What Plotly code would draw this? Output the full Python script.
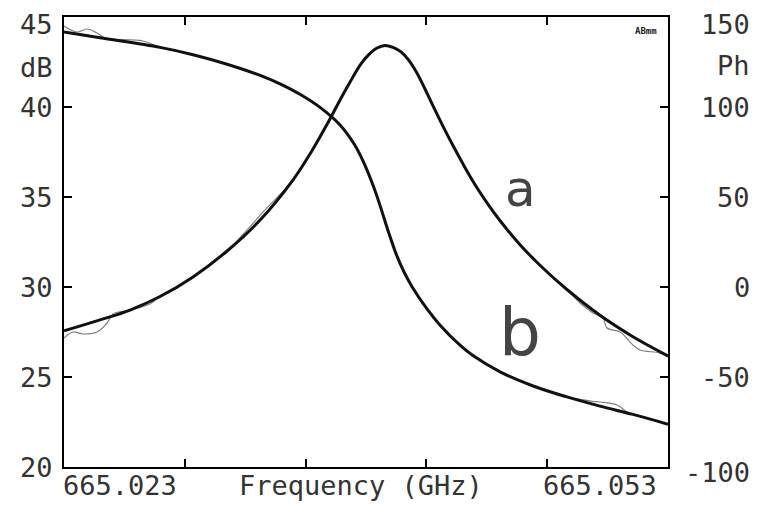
import plotly.graph_objects as go

# --- resonance scan: amplitude (a, dB) and phase (b, degrees) vs frequency ---
freq_fit_a = [665.02300, 665.02479, 665.02628, 665.02777, 665.02941, 665.03110,
              665.03274, 665.03437, 665.03522, 665.03621, 665.03671, 665.03721,
              665.03775, 665.03815, 665.03855, 665.03894, 665.03934, 665.03974,
              665.04014, 665.04053, 665.04093, 665.04133, 665.04182, 665.04232,
              665.04282, 665.04331, 665.04396, 665.04466, 665.04565, 665.04664,
              665.04798, 665.04962, 665.05126, 665.05300]
amp_fit_a = [27.56, 28.17, 28.72, 29.47, 30.56, 32.00,
             33.72, 35.94, 37.39, 39.33, 40.39, 41.39,
             42.39, 42.92, 43.28, 43.42, 43.31, 43.06,
             42.58, 41.89, 41.00, 40.06, 38.94, 37.86,
             36.83, 35.88, 34.76, 33.68, 32.35, 31.21,
             29.86, 28.43, 27.24, 26.17]

freq_meas_a = [665.02300, 665.02345, 665.02394, 665.02464, 665.02514, 665.02543,
               665.02628, 665.02727, 665.02777, 665.02941, 665.03110, 665.03224,
               665.03264, 665.03283, 665.03437, 665.03522, 665.03621, 665.03671,
               665.03721, 665.03775, 665.03815, 665.03855, 665.03894, 665.03934,
               665.03974, 665.04014, 665.04053, 665.04093, 665.04133, 665.04182,
               665.04232, 665.04282, 665.04331, 665.04396, 665.04466, 665.04565,
               665.04664, 665.04798, 665.04863, 665.04927, 665.04977, 665.04997,
               665.05062, 665.05126, 665.05161, 665.05260, 665.05300]
amp_meas_a = [27.17, 27.50, 27.39, 27.50, 28.00, 28.50,
              28.72, 29.06, 29.47, 30.56, 32.00, 33.35,
              33.85, 34.10, 35.94, 37.39, 39.33, 40.39,
              41.39, 42.39, 42.92, 43.28, 43.42, 43.31,
              43.06, 42.58, 41.89, 41.00, 40.06, 38.94,
              37.86, 36.83, 35.88, 34.76, 33.68, 32.35,
              31.21, 29.86, 29.11, 28.56, 28.28, 27.72,
              27.50, 26.78, 26.50, 26.33, 26.11]

freq_fit_b = [665.02300, 665.02479, 665.02777, 665.02941, 665.03110, 665.03274,
              665.03373, 665.03472, 665.03572, 665.03671, 665.03745, 665.03795,
              665.03835, 665.03870, 665.03909, 665.03949, 665.03989, 665.04028,
              665.04103, 665.04168, 665.04267, 665.04331, 665.04466, 665.04630,
              665.04798, 665.04962, 665.05126, 665.05300]
phase_fit_b = [141.67, 138.44, 133.11, 129.06, 123.78, 117.56,
               112.89, 107.11, 99.78, 90.00, 78.72, 67.61,
               56.50, 45.22, 31.44, 18.56, 8.33, 0.33,
               -12.17, -21.22, -32.33, -38.11, -47.11, -55.00,
               -61.06, -66.17, -70.78, -76.22]

freq_meas_b = [665.02300, 665.02365, 665.02414, 665.02464, 665.02504, 665.02692,
               665.02777, 665.02941, 665.03110, 665.03274, 665.03373, 665.03472,
               665.03572, 665.03671, 665.03745, 665.03795, 665.03835, 665.03870,
               665.03909, 665.03949, 665.03989, 665.04028, 665.04103, 665.04168,
               665.04267, 665.04331, 665.04466, 665.04630, 665.04798, 665.04927,
               665.04962, 665.05047, 665.05097, 665.05126, 665.05300]
phase_meas_b = [145.00, 141.67, 143.33, 141.11, 138.33, 136.67,
                133.11, 129.06, 123.78, 117.56, 112.89, 107.11,
                99.78, 90.00, 78.72, 67.61, 56.50, 45.22,
                31.44, 18.56, 8.33, 0.33, -12.17, -21.22,
                -32.33, -38.11, -47.11, -55.00, -61.06, -63.50,
                -63.90, -65.56, -69.44, -70.78, -76.22]

# axis ranges and tick values
freq_range = [665.023, 665.053]
freq_ticks = [665.029, 665.035, 665.041, 665.047]
db_ticks = [20, 25, 30, 35, 40, 45]
ph_ticks = [-100, -50, 0, 50, 100, 150]
freq_end_labels = ["665.023", "665.053"]
x_title = "Frequency (GHz)"

MONO = "DejaVu Sans Mono"
INK = "#333333"

fig = go.Figure()

# measured traces (thin grey) under the fitted curves (heavy black)
fig.add_trace(go.Scatter(x=freq_meas_a, y=amp_meas_a, mode="lines",
                         line=dict(color="#808080", width=1.2, shape="spline"),
                         showlegend=False, hoverinfo="skip"))
fig.add_trace(go.Scatter(x=freq_fit_a, y=amp_fit_a, mode="lines",
                         line=dict(color="#111111", width=3, shape="spline"),
                         showlegend=False))
fig.add_trace(go.Scatter(x=freq_meas_b, y=phase_meas_b, mode="lines", yaxis="y2",
                         line=dict(color="#808080", width=1.2, shape="spline"),
                         showlegend=False, hoverinfo="skip"))
fig.add_trace(go.Scatter(x=freq_fit_b, y=phase_fit_b, mode="lines", yaxis="y2",
                         line=dict(color="#111111", width=3, shape="spline"),
                         showlegend=False))

ann = []
# left (dB) tick labels
for v in db_ticks:
    shift = 0
    if v == db_ticks[-1]:
        shift = -7
    ann.append(dict(x=-0.015, xref="paper", y=v, yref="y", text=str(v),
                    xanchor="right", yanchor="middle", showarrow=False, yshift=shift,
                    font=dict(family=MONO, size=27, color=INK)))
# right (phase) tick labels
for v in ph_ticks:
    shift = 0
    if v == ph_ticks[-1]:
        shift = -7
    elif v == ph_ticks[0]:
        shift = -5
    ann.append(dict(x=1.139, xref="paper", y=v, yref="y2", text=str(v),
                    xanchor="right", yanchor="middle", showarrow=False, yshift=shift,
                    font=dict(family=MONO, size=27, color=INK)))
# unit labels
ann.append(dict(x=-0.015, xref="paper", y=0.887, yref="paper", text="dB",
                xanchor="right", yanchor="middle", showarrow=False,
                font=dict(family=MONO, size=27, color=INK)))
ann.append(dict(x=1.139, xref="paper", y=0.893, yref="paper", text="Ph",
                xanchor="right", yanchor="middle", showarrow=False,
                font=dict(family=MONO, size=27, color=INK)))
# frequency axis labels
ann.append(dict(x=freq_range[0], xref="x", y=-0.042, yref="paper", text=freq_end_labels[0],
                xanchor="left", yanchor="middle", showarrow=False, xshift=-3,
                font=dict(family=MONO, size=27, color=INK)))
ann.append(dict(x=freq_range[1], xref="x", y=-0.042, yref="paper", text=freq_end_labels[1],
                xanchor="right", yanchor="middle", showarrow=False, xshift=-9,
                font=dict(family=MONO, size=27, color=INK)))
ann.append(dict(x=0.491, xref="paper", y=-0.042, yref="paper", text=x_title,
                xanchor="center", yanchor="middle", showarrow=False,
                font=dict(family=MONO, size=27, color=INK)))
# instrument tag
ann.append(dict(x=0.985, xref="paper", y=0.985, yref="paper", text="<b>ABmm</b>",
                xanchor="right", yanchor="top", showarrow=False,
                font=dict(family=MONO, size=9, color="#222")))
# curve labels
ann.append(dict(x=0.755, xref="paper", y=0.617, yref="paper", text="a",
                xanchor="center", yanchor="middle", showarrow=False,
                font=dict(family="DejaVu Sans", size=50, color="#444")))
ann.append(dict(x=0.755, xref="paper", y=0.300, yref="paper", text="b",
                xanchor="center", yanchor="middle", showarrow=False,
                font=dict(family="DejaVu Sans", size=66, color="#444")))

fig.update_layout(
    width=764, height=513,
    margin=dict(l=64, r=96, t=17, b=46),
    paper_bgcolor="white", plot_bgcolor="white",
    xaxis=dict(range=freq_range, tickvals=freq_ticks, showticklabels=False,
               ticks="inside", ticklen=8, tickwidth=1.5, tickcolor="black",
               showline=True, linecolor="black", linewidth=1.5, mirror="ticks",
               showgrid=False, zeroline=False),
    yaxis=dict(range=[db_ticks[0], db_ticks[-1]], tickvals=db_ticks[1:-1],
               showticklabels=False, ticks="inside", ticklen=8, tickwidth=1.5,
               tickcolor="black", showline=True, linecolor="black", linewidth=1.5,
               mirror="ticks", showgrid=False, zeroline=False),
    yaxis2=dict(range=[ph_ticks[0], ph_ticks[-1]], overlaying="y", side="right",
                showticklabels=False, showgrid=False, zeroline=False,
                showline=False, ticks=""),
    annotations=ann,
)

fig.write_html("out.html")
